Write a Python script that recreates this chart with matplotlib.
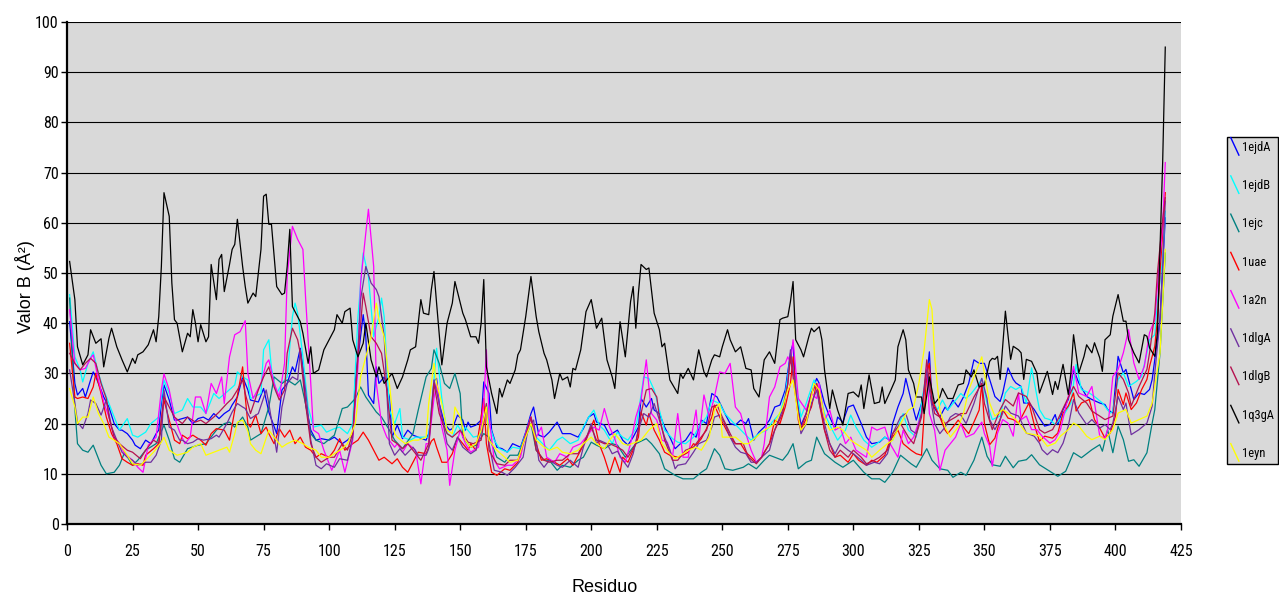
import matplotlib
matplotlib.use("Agg")
import matplotlib.pyplot as plt
from matplotlib import font_manager as fm
from matplotlib.lines import Line2D
from matplotlib.legend_handler import HandlerBase

# ---------------- data (residue, B value) ----------------
series_names = ["1ejdA", "1ejdB", "1ejc", "1uae", "1a2n", "1dlgA", "1dlgB", "1q3gA", "1eyn"]
series_colors = ["#0000FF", "#00FFFF", "#008080", "#FF0000", "#FF00FF",
                 "#7030A0", "#B5124F", "#000000", "#FFFF00"]

pts_1ejdA = [(1, 40.3), (3, 28), (4, 25.7), (6, 27), (7, 25.3), (9, 28.7), (10, 30.3), (11, 29.3), (13, 26.7),
    (14, 25.3), (16, 23.3), (18, 20), (20, 18.7), (21, 18.7), (23, 18), (25, 16.7), (26, 15.7), (28, 15),
    (30, 16.7), (32, 16), (34, 18), (35, 18.7), (36, 24), (37, 27.7), (39, 24.7), (41, 20.7), (42, 20.7),
    (44, 21), (46, 21.3), (48, 20), (50, 21), (52, 21.3), (54, 20.7), (56, 22), (58, 21), (60, 22), (62, 22.7),
    (63, 23.7), (65, 25.3), (67, 29.3), (69, 26.7), (70, 24.7), (73, 24.3), (75, 27), (77, 22.3), (80, 18),
    (82, 26.7), (84, 28), (86, 31.3), (87, 30.3), (89, 35), (90, 31.3), (91, 24), (93, 18.7), (95, 16.7),
    (97, 17), (100, 16.7), (102, 17.3), (105, 16), (107, 16.7), (109, 17.7), (110, 28.7), (112, 37.3),
    (113, 41.7), (114, 37.3), (115, 25.7), (117, 24), (118, 31.3), (119, 28), (121, 29.3), (123, 25.3),
    (124, 17.3), (126, 19.7), (128, 17), (130, 18.7), (132, 17.7), (134, 17.3), (137, 16.7), (138, 18),
    (139, 21.3), (140, 28.5), (141, 29), (142, 24), (144, 20), (146, 18.7), (147, 19), (149, 21.7), (151, 20.7),
    (152, 18.7), (153, 20.3), (154, 19.3), (156, 19.7), (158, 20.7), (159, 28.3), (161, 26), (162, 18.7),
    (164, 15.3), (166, 15), (168, 14.3), (170, 16), (173, 15.3), (175, 18.3), (177, 22), (178, 23.3),
    (180, 17.7), (182, 17.3), (184, 18.3), (187, 20.3), (189, 18), (192, 18), (195, 17.3), (197, 19),
    (199, 21.3), (201, 22), (202, 20.3), (205, 19.7), (207, 17.7), (210, 18.7), (212, 16.7), (214, 15.7),
    (216, 17.3), (218, 19.3), (219, 25), (221, 23.3), (223, 25), (224, 22.7), (226, 22), (228, 19.3),
    (230, 17.3), (232, 15), (234, 16), (236, 16.7), (238, 18.3), (240, 17.3), (242, 20.7), (244, 20),
    (246, 26), (248, 25.3), (251, 22), (253, 20), (255, 19.7), (257, 20.7), (259, 20), (260, 21), (262, 16.7),
    (264, 18.3), (266, 19.3), (268, 20.7), (270, 23.3), (272, 23.7), (274, 26.7), (276, 34), (277, 36),
    (278, 26.7), (280, 19.7), (282, 22), (284, 26), (286, 29), (287, 28), (289, 24), (291, 21.3), (293, 19),
    (294, 21.3), (296, 20.3), (298, 23.3), (300, 23.7), (303, 20), (305, 17.3), (307, 16), (310, 16.3),
    (312, 17.3), (314, 16.7), (315, 20), (317, 23.3), (319, 26), (320, 29), (322, 24.7), (324, 20.7),
    (326, 24), (328, 29.3), (329, 34.3), (330, 24), (333, 21.3), (335, 23.3), (336, 22.7), (338, 24.7),
    (340, 23.3), (342, 25.3), (344, 28), (346, 32.7), (348, 32), (350, 32), (352, 28.8), (354, 25.4),
    (356, 24.4), (357, 26.1), (359, 31.1), (361, 28.8), (362, 28.1), (364, 27.4), (365, 24.1), (367, 24.1),
    (369, 22.8), (371, 21.1), (373, 19.5), (375, 19.8), (377, 21.8), (378, 19.8), (380, 22.8), (382, 24.8),
    (384, 30.8), (386, 28.1), (389, 25.4), (391, 24.8), (394, 24.1), (396, 23.8), (397, 22.8), (399, 22.1),
    (401, 33.4), (403, 30.1), (404, 30.8), (406, 26.8), (407, 24.8), (409, 26.1), (411, 25.8), (413, 26.8),
    (414, 28.8), (415, 32.8), (417, 40.7), (418, 50.7), (419, 61)]

pts_1ejdB = [(1, 45.7), (3, 33.3), (5, 30.7), (6, 28.3), (8, 32), (10, 34.3), (12, 30), (14, 26.7), (16, 24),
    (18, 21.3), (20, 18.7), (23, 21), (25, 17.7), (27, 17.3), (30, 18.3), (32, 20), (35, 21.3), (37, 28.7),
    (39, 26), (41, 22), (44, 22.7), (46, 25), (48, 23.3), (51, 23.3), (53, 22), (56, 26), (58, 25), (61, 26.3),
    (64, 27.7), (65, 30.3), (67, 29.3), (69, 28.7), (70, 25), (74, 26), (75, 34.7), (77, 36.7), (78, 31),
    (80, 26), (82, 28), (84, 29.3), (86, 41.3), (87, 44), (88, 42), (90, 33.3), (92, 23.3), (94, 19.3),
    (97, 19.7), (99, 18.3), (102, 19), (104, 19.3), (107, 18), (109, 20), (111, 41.3), (113, 54), (115, 49.3),
    (117, 37.3), (119, 41.3), (120, 45), (121, 41.3), (123, 22.7), (125, 20), (127, 23), (128, 17.3),
    (131, 16.7), (133, 17.3), (136, 17.3), (138, 17.3), (140, 28.7), (141, 35), (143, 25), (145, 18),
    (147, 17.3), (149, 19.7), (151, 18), (152, 19.3), (155, 17.3), (158, 17.7), (160, 24), (161, 20),
    (163, 16.7), (165, 15), (168, 14.3), (170, 15.3), (173, 15), (175, 18), (177, 21.3), (179, 17.3),
    (182, 15.7), (184, 14.7), (187, 16.7), (189, 17.3), (192, 16), (195, 16.7), (197, 19.3), (199, 21.3),
    (201, 22.7), (203, 19.7), (205, 18.7), (208, 16), (210, 18.3), (212, 17.3), (214, 16.7), (217, 19),
    (219, 25.7), (220, 29.3), (222, 29), (224, 26.7), (226, 22.7), (228, 18.7), (231, 17), (233, 16.3),
    (236, 16), (239, 17.3), (241, 19.3), (244, 21.3), (246, 24.7), (249, 24), (251, 22), (254, 20.3),
    (256, 19.3), (259, 17.7), (261, 16.7), (264, 18), (267, 18.7), (269, 20.3), (272, 22), (274, 25.7),
    (276, 33.3), (278, 28), (280, 21.3), (282, 24), (285, 28.7), (287, 26.7), (289, 22), (292, 18.7),
    (294, 16.7), (297, 18.7), (299, 21.7), (301, 19.3), (304, 16.7), (307, 15.3), (309, 16), (312, 17.3),
    (315, 16.7), (317, 19.3), (319, 22), (321, 18.7), (324, 17.3), (326, 24), (328, 30.7), (330, 25.3),
    (332, 22.7), (334, 24.7), (336, 22.7), (338, 24), (341, 26), (343, 25), (345, 26), (348, 28), (349, 29),
    (351, 24), (353, 20.8), (356, 21.5), (358, 26.1), (360, 27.4), (362, 26.8), (364, 27.4), (366, 24.1),
    (368, 31.1), (371, 22.8), (373, 21.1), (375, 20.8), (377, 19.8), (380, 21.5), (383, 24.1), (385, 31.8),
    (387, 26.8), (390, 26.1), (392, 25.4), (395, 24.1), (398, 22.1), (399, 22.5), (401, 28.8), (403, 30.1),
    (405, 27.4), (408, 28.4), (410, 29.4), (412, 34.1), (413, 36.7), (415, 37.7), (416, 44.1), (418, 52.7),
    (419, 62.3)]

pts_1ejc = [(1, 45), (3, 23), (4, 16), (6, 14.7), (8, 14.3), (10, 15.7), (13, 11.7), (15, 10), (18, 10.3),
    (20, 11.7), (22, 14.3), (25, 11.7), (27, 12.7), (30, 14.7), (34, 16), (37, 19.7), (39, 16.7), (41, 13),
    (43, 12.3), (46, 15), (50, 15.7), (53, 16), (57, 18.7), (60, 20), (62, 20.3), (64, 19.3), (67, 21.3),
    (69, 19.3), (70, 16.7), (74, 18), (77, 23.3), (79, 29.3), (82, 28), (84, 28.7), (87, 27.7), (89, 28.7),
    (91, 24), (93, 18), (95, 16.7), (98, 16), (102, 17.7), (105, 23), (107, 23.3), (110, 25), (112, 27.3),
    (114, 25.3), (118, 22.3), (120, 21.3), (123, 18.7), (125, 16.7), (128, 15), (132, 18), (134, 22.7),
    (137, 29.3), (139, 31), (140, 34.7), (142, 32), (144, 28), (146, 27), (148, 30), (150, 26), (151, 17.3),
    (154, 15.3), (156, 15.7), (159, 18), (161, 17.3), (164, 13.3), (167, 12.3), (169, 13.7), (172, 13.7),
    (175, 17.3), (177, 20), (179, 14.7), (182, 12.7), (184, 12.7), (187, 10.7), (189, 11.7), (192, 11.3),
    (195, 12.7), (197, 13.3), (200, 16.3), (202, 15.7), (205, 15), (208, 16), (210, 15.7), (213, 13.3),
    (217, 16), (221, 17), (223, 16), (226, 14), (228, 11), (232, 9.7), (235, 9), (239, 9), (242, 10.3),
    (244, 11), (247, 15), (249, 13.7), (251, 11), (254, 10.7), (258, 11.3), (260, 12), (263, 11), (266, 12.7),
    (268, 13.7), (270, 13.3), (273, 12.7), (275, 14), (277, 16), (279, 11), (282, 12.3), (284, 12.7),
    (286, 17.3), (289, 14), (293, 12.3), (296, 11.3), (300, 12.7), (304, 10.3), (307, 9), (310, 9), (312, 8.3),
    (315, 10.3), (318, 13.7), (322, 12), (324, 11.3), (328, 15), (330, 12.7), (333, 11), (336, 10.7),
    (338, 9.3), (341, 10.3), (343, 9.7), (346, 12.7), (349, 17.3), (351, 13.5), (353, 11.8), (356, 11.5),
    (358, 13.5), (361, 11.2), (363, 12.5), (366, 12.8), (368, 13.8), (371, 11.8), (375, 10.5), (378, 9.5),
    (381, 10.5), (384, 14.2), (387, 13.2), (391, 14.8), (394, 15.8), (395, 14.5), (397, 18.8), (399, 14.2),
    (401, 19.5), (403, 16.8), (405, 12.5), (407, 12.8), (409, 11.5), (412, 14.2), (414, 20.1), (415, 22.8),
    (417, 34.1), (418, 44.1), (419, 54)]

pts_1uae = [(1, 36), (3, 25.3), (4, 25), (6, 25.3), (8, 25), (10, 27.3), (11, 30), (13, 26), (15, 21.3),
    (17, 18), (19, 16), (21, 13), (23, 12.3), (25, 11.7), (27, 12), (29, 11.7), (30, 13.7), (33, 15), (35, 16),
    (36, 20.7), (37, 24.7), (39, 20.7), (41, 16.7), (43, 16), (44, 17.7), (46, 17), (48, 17.7), (51, 16.7),
    (53, 15.7), (55, 18), (57, 19), (60, 18.7), (62, 16.7), (64, 22.7), (67, 31.3), (68, 25.3), (69, 20),
    (70, 19.3), (72, 21.7), (74, 18), (76, 19.3), (77, 18), (79, 16), (81, 19), (83, 17.3), (85, 18.7),
    (87, 16), (89, 17.3), (91, 15.3), (93, 14.7), (95, 13.3), (97, 14), (100, 13.3), (102, 14.7), (104, 17),
    (106, 14.7), (109, 16), (111, 16.7), (113, 18.3), (115, 16.7), (117, 14.7), (119, 12.7), (121, 13.3),
    (124, 12), (126, 13), (128, 11.3), (130, 10.3), (132, 12.3), (134, 14.3), (137, 14), (139, 16.5),
    (140, 17), (141, 15.3), (143, 12.3), (145, 12.3), (147, 14), (149, 17.3), (151, 16), (153, 14.7),
    (154, 16), (156, 14.7), (158, 21.3), (159, 25), (160, 16), (162, 10.3), (164, 9.7), (167, 11),
    (169, 10.7), (172, 12.3), (174, 16), (177, 21.3), (179, 16), (181, 12.7), (183, 13), (186, 12.3),
    (188, 11.7), (191, 13), (193, 11.7), (196, 14.7), (198, 16.7), (201, 20.7), (203, 16), (205, 13.3),
    (207, 10), (209, 13.3), (211, 10.3), (212, 13.3), (214, 12.3), (216, 14.7), (218, 17.3), (219, 22.3),
    (221, 19.7), (222, 22), (224, 18.7), (226, 16.7), (228, 14.3), (230, 13.7), (233, 13.3), (235, 13.7),
    (237, 14.3), (239, 16), (240, 15.7), (242, 17), (244, 19), (246, 21.3), (247, 23.7), (249, 21.3),
    (251, 19.3), (253, 17.3), (255, 16), (257, 16), (259, 14.3), (261, 13.3), (263, 12.3), (265, 13.3),
    (266, 14.3), (268, 16), (270, 20.7), (272, 20), (274, 23.3), (276, 28), (277, 33.3), (279, 20.7),
    (280, 18.7), (282, 21), (284, 23.3), (286, 28), (287, 24), (289, 18.7), (291, 16), (293, 13.3),
    (295, 13.7), (298, 12.3), (300, 14), (302, 12.7), (305, 11.7), (307, 12.7), (309, 12.3), (312, 13.7),
    (314, 16.7), (317, 18.7), (319, 16), (322, 14.7), (324, 14), (326, 13.7), (328, 30), (329, 32),
    (330, 24.7), (333, 21.3), (335, 18.7), (336, 18), (338, 19.3), (340, 20.7), (342, 19.3), (344, 18),
    (346, 20.3), (348, 22.7), (349, 28), (350, 20), (352, 15.8), (354, 17.1), (356, 20.8), (357, 22.8),
    (359, 21.1), (361, 20.8), (363, 20.1), (365, 22.1), (367, 24.1), (369, 19.8), (371, 16.5), (373, 17.5),
    (376, 17.1), (378, 18.1), (380, 22.1), (382, 23.5), (384, 26.1), (385, 22.5), (387, 24.1), (390, 24.8),
    (392, 20.8), (394, 19.1), (396, 17.1), (398, 18.1), (400, 21.5), (401, 26.8), (403, 23.8), (404, 26.1),
    (406, 22.8), (408, 24.1), (410, 26.8), (412, 28.8), (413, 31.4), (415, 35.4), (416, 40.7), (417, 50),
    (419, 66)]

pts_1a2n = [(1, 42.7), (3, 32), (5, 30.7), (7, 31), (9, 33), (10, 33.7), (12, 28.7), (14, 24.3), (16, 21.3),
    (18, 17.3), (20, 16), (22, 14), (25, 12.7), (27, 11.3), (29, 10.3), (31, 15.7), (34, 17.3), (36, 26.7),
    (37, 29.9), (39, 26.7), (41, 21.3), (43, 18.3), (45, 16), (47, 17.3), (49, 25.3), (51, 25.3), (53, 22),
    (55, 28), (57, 26), (59, 29.3), (60, 24), (62, 33.3), (64, 37.7), (66, 38.3), (68, 40.5), (69, 30),
    (71, 25), (74, 28), (76, 32), (77, 32.7), (79, 28), (81, 25.3), (83, 32), (84, 49.3), (86, 59.3),
    (88, 56.7), (90, 54.7), (91, 45.3), (93, 28), (94, 18.7), (96, 18), (98, 14.7), (101, 10.7), (104, 14.7),
    (106, 10.3), (109, 16.7), (111, 31.3), (112, 48), (114, 58), (115, 62.7), (117, 51.3), (118, 28),
    (120, 20), (122, 17.3), (125, 15.3), (126, 16), (128, 14.3), (130, 16), (133, 14.7), (135, 8), (137, 16),
    (138, 16), (140, 25), (141, 28), (143, 19.3), (145, 14.7), (146, 7.7), (148, 14.7), (150, 18.7),
    (152, 16), (154, 14.3), (157, 15.3), (159, 24), (160, 34.7), (161, 21.3), (163, 12.7), (165, 11),
    (168, 11.7), (170, 11.7), (173, 13.3), (175, 18), (177, 21.3), (179, 17.3), (181, 19.3), (183, 13.3),
    (186, 12.3), (188, 14), (191, 13.3), (193, 15.3), (196, 16), (198, 17.3), (201, 19.3), (203, 18.7),
    (205, 23), (207, 19.3), (209, 17), (211, 13.3), (213, 12.3), (215, 16), (217, 21.3), (219, 24.7),
    (221, 32.7), (223, 22), (225, 20.7), (227, 16.7), (229, 16.3), (231, 13.3), (233, 22), (235, 13.3),
    (237, 13.3), (238, 16.7), (240, 22.7), (241, 16.7), (243, 25.7), (245, 21.3), (247, 25.3), (249, 30.3),
    (251, 30), (253, 32), (255, 23.3), (257, 22), (259, 18), (261, 14.7), (263, 12.3), (265, 13.3), (266, 16),
    (268, 25.3), (270, 27.3), (272, 31.3), (274, 32), (275, 33.3), (276, 32), (277, 36.7), (279, 25),
    (282, 22.7), (284, 26), (286, 25), (287, 28), (289, 20.7), (291, 22.7), (293, 18.7), (295, 19.3),
    (297, 16), (299, 17.3), (301, 14.7), (305, 13.3), (307, 19.3), (309, 18.7), (312, 19.3), (314, 16),
    (317, 13.3), (319, 18.7), (321, 16), (323, 17.3), (326, 22), (328, 31.3), (329, 22), (331, 18.7),
    (333, 10.7), (335, 14.7), (337, 16), (339, 17.3), (341, 20), (343, 17.3), (346, 18), (349, 20.3),
    (350, 18), (352, 15.5), (353, 11.5), (355, 18.1), (357, 20.8), (359, 20.1), (361, 17.5), (363, 26.1),
    (364, 20.8), (366, 21.5), (368, 18.8), (370, 18.8), (372, 17.5), (375, 16.1), (377, 16.8), (379, 18.8),
    (382, 25.4), (384, 31.4), (386, 26.1), (389, 25.4), (391, 27.4), (394, 17.5), (396, 17.1), (397, 18.8),
    (399, 29.4), (401, 30.8), (403, 34.1), (405, 38.7), (407, 32.1), (409, 28.8), (411, 31.4), (413, 38.1),
    (415, 40.7), (416, 47.4), (418, 59.3), (419, 72)]

pts_1dlgA = [(1, 30.7), (3, 24), (4, 20.3), (6, 19), (8, 22), (9, 24.7), (11, 24), (13, 21.7), (15, 24.7),
    (17, 19.3), (19, 16.7), (21, 14.3), (23, 13.3), (25, 12.7), (27, 11.7), (30, 12.3), (32, 12.3),
    (34, 13.7), (36, 16.7), (37, 26.7), (39, 19.3), (41, 18.7), (43, 16.7), (44, 16.7), (46, 16), (48, 16.3),
    (50, 17), (52, 16.7), (55, 17), (57, 17.7), (58, 17.3), (61, 20), (63, 22.3), (65, 24), (67, 23.3),
    (68, 23), (70, 21), (73, 22), (76, 26.7), (77, 24), (80, 14.3), (82, 23.3), (84, 28), (86, 29.3),
    (88, 28.7), (89, 34.7), (91, 26.7), (93, 16.7), (95, 11.7), (97, 11), (99, 12), (102, 11.3), (104, 13),
    (107, 12.7), (109, 17.3), (111, 34.7), (112, 44.7), (114, 51.3), (116, 48), (118, 46.7), (119, 45.3),
    (121, 37.3), (123, 16), (125, 13.7), (127, 15), (129, 13.7), (132, 15.3), (134, 13.7), (137, 13.7),
    (138, 15), (139, 22.7), (140, 28.7), (142, 24), (145, 16), (147, 14.7), (149, 17.3), (151, 15.3),
    (154, 14), (156, 14.7), (158, 18.7), (160, 23.3), (161, 16), (163, 10.7), (166, 10.3), (168, 9.7),
    (171, 11.3), (174, 13.3), (176, 19.3), (178, 20.7), (180, 12.7), (182, 11.3), (184, 12.7), (187, 11.7),
    (189, 11.3), (192, 12.7), (195, 11.3), (197, 15.3), (200, 20), (202, 16), (203, 16.7), (206, 16),
    (208, 14), (210, 14.5), (212, 12.7), (214, 11.3), (216, 14), (218, 18.7), (220, 22), (222, 21.3),
    (224, 24), (226, 20.7), (228, 17.3), (230, 14.7), (232, 11), (233, 11.7), (236, 12), (239, 14.3),
    (241, 16), (244, 16.7), (246, 19.3), (247, 21.3), (249, 21.7), (251, 20), (253, 17.3), (255, 15.3),
    (257, 14.3), (259, 14), (261, 12.3), (263, 12.3), (265, 13.3), (268, 14.7), (270, 18.7), (273, 22.7),
    (275, 28), (276, 34.7), (278, 26.7), (280, 18), (282, 20), (284, 24), (286, 26.7), (287, 24), (289, 20),
    (291, 16), (293, 14), (295, 16), (298, 14.7), (300, 14), (303, 12.7), (305, 11.7), (308, 12.3), (310, 12),
    (313, 14), (315, 18), (318, 21.3), (320, 22), (322, 18.7), (324, 18), (326, 22), (328, 30.7), (329, 26.7),
    (331, 20), (333, 18), (335, 19.3), (337, 21.3), (339, 22), (341, 21.7), (343, 20), (346, 24), (349, 29),
    (351, 25), (352, 20.8), (354, 18.8), (356, 20.8), (358, 23.5), (360, 22.1), (363, 21.5), (364, 20.5),
    (366, 18.1), (369, 17.5), (371, 16.1), (372, 14.8), (374, 13.8), (376, 14.8), (378, 14.2), (380, 16.1),
    (382, 19.5), (384, 24.8), (386, 22.1), (389, 19.8), (391, 20.8), (394, 19.1), (396, 19.8), (398, 18.8),
    (399, 20.1), (401, 25.4), (403, 22.8), (404, 24.1), (405, 20.8), (406, 17.8), (409, 18.8), (412, 20.1),
    (414, 23.5), (415, 30.1), (417, 40.7), (418, 51.4), (419, 64.3)]

pts_1dlgB = [(1, 34), (3, 32), (5, 30.7), (7, 32), (9, 33), (11, 32), (13, 28), (15, 25), (16, 21.3),
    (18, 17.3), (20, 16), (23, 14.7), (25, 14.3), (28, 13), (30, 14.7), (33, 16.7), (35, 16), (37, 25.3),
    (39, 23.3), (41, 21.3), (44, 20), (46, 21.3), (49, 20.3), (51, 20.7), (53, 20), (56, 21.3), (58, 22.3),
    (61, 24), (63, 25), (65, 26.7), (67, 28.7), (68, 26), (70, 22), (73, 26.7), (75, 29.3), (77, 31.3),
    (79, 27.3), (81, 24.7), (83, 26.7), (84, 34), (86, 39), (88, 36.7), (89, 34), (91, 24), (93, 16),
    (95, 13.3), (97, 12.3), (100, 13.3), (102, 13.3), (105, 16), (107, 14.7), (109, 18), (111, 33.3),
    (113, 46), (114, 43.3), (116, 37.3), (118, 36), (120, 34), (122, 26.7), (124, 16.7), (126, 16),
    (128, 15), (130, 16), (133, 14), (135, 12.7), (138, 16), (139, 22), (140, 28), (142, 22), (145, 18),
    (147, 17.3), (150, 18.7), (153, 16.3), (155, 16), (158, 16.7), (160, 24), (161, 14.7), (164, 12),
    (167, 11.7), (169, 12.7), (172, 12.7), (174, 16), (177, 21.3), (179, 14.7), (182, 12.7), (184, 12.3),
    (187, 12.7), (189, 12.7), (192, 14), (195, 14), (197, 16), (200, 19.3), (202, 16.7), (205, 16),
    (207, 16), (210, 15.3), (212, 14.7), (214, 13.3), (217, 16), (219, 22), (221, 26.7), (223, 27),
    (225, 25.3), (226, 21.3), (228, 16.7), (231, 12.7), (233, 12.7), (236, 14.7), (239, 15.3), (241, 16.7),
    (244, 18.7), (246, 23.3), (248, 23.7), (250, 21.3), (253, 18), (255, 16), (258, 16), (260, 13.3),
    (263, 12), (265, 13.3), (268, 16), (270, 18.7), (273, 22), (275, 28), (276, 33.3), (278, 25.3), (280, 19),
    (282, 22), (284, 26), (286, 28), (287, 25.3), (289, 18.7), (291, 14.7), (293, 13.3), (295, 14.7),
    (298, 13.3), (300, 14.7), (303, 13.3), (305, 12), (308, 12.7), (310, 13.3), (313, 14.7), (315, 18),
    (318, 20), (321, 17.3), (323, 16), (326, 21.3), (328, 32.7), (329, 28), (331, 22), (333, 21.3), (335, 20),
    (337, 20.7), (339, 21.3), (341, 22), (343, 22), (346, 25.3), (349, 28), (350, 24), (353, 18.8),
    (356, 22.8), (358, 24.8), (361, 23.5), (363, 26.1), (366, 25.4), (368, 23.5), (371, 18.8), (373, 18.1),
    (376, 18.8), (378, 20.8), (381, 24.1), (384, 27.4), (386, 25.4), (389, 24.1), (391, 22.5), (394, 21.5),
    (396, 20.8), (399, 21.5), (401, 30.1), (403, 28.8), (405, 26.1), (406, 23.5), (409, 27.4), (412, 30.8),
    (413, 34.1), (415, 42), (416, 50), (418, 60.6), (419, 65)]

pts_1q3gA = [(1, 52.3), (3, 44.7), (4, 35.3), (6, 31.7), (8, 33.7), (9, 38.7), (11, 36), (13, 36.9),
    (14, 31.3), (16, 37), (17, 39), (19, 35.3), (21, 32.7), (23, 30.3), (25, 33), (26, 32), (27, 33.7),
    (29, 34.3), (31, 35.7), (33, 38.7), (34, 36.3), (35, 41.3), (36, 51.3), (37, 66), (39, 61.3), (40, 48),
    (41, 40.7), (42, 40), (44, 34.3), (46, 38), (47, 37.3), (48, 42.7), (49, 40), (50, 36.3), (51, 39.7),
    (53, 36.3), (54, 37.3), (55, 51.7), (57, 44.7), (58, 52.7), (59, 53.7), (60, 46.3), (62, 51.7),
    (63, 54.7), (64, 55.7), (65, 60.7), (67, 51.3), (68, 47.3), (69, 44), (71, 46), (72, 45.3), (74, 54.7),
    (75, 65.3), (76, 65.7), (77, 59.7), (78, 59.7), (80, 47.3), (82, 45.7), (83, 46), (84, 51.3), (85, 58.7),
    (86, 43.3), (88, 41.3), (89, 40.3), (90, 38), (92, 32), (93, 35.3), (94, 30), (96, 30.7), (98, 34.7),
    (100, 36.7), (102, 38.7), (103, 41.7), (105, 40), (106, 42.3), (108, 43), (109, 36.7), (111, 33.3),
    (113, 36), (114, 40), (116, 32.7), (118, 29.3), (119, 31.3), (121, 28), (124, 30), (126, 27), (128, 29.3),
    (130, 32.7), (131, 34.7), (133, 35.3), (135, 44.7), (136, 42), (138, 41.7), (139, 46.7), (140, 50.3),
    (141, 44), (143, 31.7), (145, 40), (147, 44), (148, 48.3), (151, 42), (152, 40.7), (154, 37.3),
    (156, 37.3), (157, 36), (158, 40), (159, 48.7), (160, 31.3), (162, 26), (164, 22), (165, 27), (166, 25.3),
    (168, 28.7), (169, 28), (171, 30.7), (172, 33.7), (173, 34.7), (175, 41.3), (177, 49.3), (179, 41.3),
    (180, 38.3), (182, 34), (183, 32.7), (185, 28.7), (186, 25), (188, 30), (189, 28.7), (191, 29.3),
    (192, 27.3), (193, 31), (194, 30.7), (196, 34.7), (198, 42.3), (200, 44.7), (202, 39), (204, 41),
    (206, 32.7), (208, 29.3), (209, 27), (211, 40.3), (213, 33.3), (215, 44.3), (216, 47.3), (217, 39),
    (218, 46), (219, 51.7), (221, 50.7), (222, 51), (224, 42), (226, 38.7), (227, 35.3), (228, 36),
    (230, 28.7), (233, 26), (234, 30), (235, 29), (237, 31), (239, 28.7), (241, 34.7), (243, 30.3),
    (244, 29.3), (246, 32.7), (247, 33.7), (249, 33.3), (250, 35.3), (252, 38.7), (253, 36.7), (255, 34.3),
    (257, 35.3), (259, 31), (261, 30.7), (262, 27), (264, 25.3), (266, 32.7), (268, 34.3), (270, 32),
    (272, 40.7), (273, 41), (275, 41.3), (276, 44.3), (277, 48.3), (278, 36.7), (280, 34.7), (281, 33.3),
    (283, 37.3), (284, 39), (285, 38.3), (287, 39.3), (288, 36.7), (289, 30.7), (291, 23), (292, 26.7),
    (294, 22.7), (296, 19.7), (298, 26), (300, 26.3), (302, 25.3), (303, 27.7), (304, 23), (306, 29.7),
    (308, 24), (310, 24.3), (311, 27.3), (312, 24), (314, 26.3), (316, 28.7), (317, 35.3), (319, 38.7),
    (320, 36.7), (321, 30.7), (323, 28), (324, 25.3), (326, 25.3), (327, 22), (329, 29.3), (331, 24),
    (333, 25.3), (334, 27), (336, 25), (338, 25), (340, 27.7), (342, 28), (343, 30.7), (345, 29.3),
    (346, 30.7), (348, 27.3), (350, 27.7), (351, 30), (352, 32.4), (353, 33), (354, 32.8), (355, 33.4),
    (356, 28.8), (358, 42.4), (360, 32.8), (361, 35.4), (363, 34.7), (364, 34.1), (365, 28.8), (366, 32.8),
    (368, 32.4), (370, 30.1), (371, 26.1), (374, 30.4), (376, 25.8), (377, 28.4), (378, 26.8), (380, 31.8),
    (382, 25.8), (383, 30.1), (384, 37.7), (386, 30.1), (388, 33.4), (389, 35.7), (391, 34.1), (392, 36.1),
    (394, 33.1), (395, 30.4), (396, 36.7), (398, 37.7), (399, 41.4), (401, 45.7), (403, 40.4), (404, 40.4),
    (405, 36.7), (407, 34.1), (409, 32.1), (411, 37.7), (412, 37.4), (413, 35.1), (415, 33.4), (416, 38),
    (418, 72), (419, 95)]

pts_1eyn = [(1, 27), (3, 23.3), (4, 20), (6, 21.3), (8, 21.3), (10, 25.3), (12, 22), (14, 20), (16, 17.3),
    (18, 16.7), (20, 16), (23, 13.7), (25, 12), (28, 11.7), (30, 12.7), (33, 14.3), (36, 16.3), (37, 17.3),
    (39, 14.7), (42, 13.7), (44, 14), (46, 14.3), (48, 15.3), (51, 16), (53, 13.7), (56, 14.3), (58, 14.7),
    (61, 15.3), (62, 14.3), (64, 18), (65, 20.3), (67, 20.7), (69, 18.5), (70, 16), (72, 14.7), (74, 14),
    (77, 18.7), (79, 17.3), (82, 15.3), (84, 16), (87, 16.7), (90, 16), (92, 15.3), (95, 14.7), (97, 13.3),
    (100, 13.3), (102, 14), (105, 15), (107, 16), (110, 20), (112, 29.3), (114, 33.3), (116, 37.3), (118, 44),
    (119, 40.7), (121, 37.3), (123, 28), (125, 18), (126, 17.3), (129, 16), (132, 16.7), (134, 16.7),
    (137, 17.3), (138, 24), (140, 32), (141, 28), (143, 24), (145, 18.7), (147, 18), (148, 23.3), (150, 21.3),
    (152, 16.7), (154, 15.3), (156, 16), (158, 18.7), (160, 23.3), (161, 16.7), (164, 14.7), (167, 13.3),
    (169, 12.3), (172, 12.7), (174, 16), (177, 20), (179, 16.7), (182, 15.3), (184, 14.7), (187, 15.3),
    (189, 14.3), (192, 14), (195, 14.7), (197, 16), (200, 17.3), (202, 16), (205, 15), (207, 16.7), (209, 18),
    (212, 16), (214, 15.7), (217, 16.3), (219, 16.7), (222, 18.7), (225, 20), (227, 16), (230, 14), (232, 13),
    (235, 14), (237, 14.7), (240, 15.3), (242, 14.7), (245, 17.3), (247, 22.7), (249, 24), (250, 17.3),
    (253, 17.3), (255, 17.3), (258, 16), (260, 16), (263, 17.3), (265, 18.3), (268, 19.3), (270, 20),
    (273, 23.3), (275, 26.7), (277, 28.7), (279, 21.3), (280, 18.7), (282, 20), (285, 28), (287, 26.7),
    (289, 21.3), (291, 18.7), (294, 19.3), (296, 18.7), (299, 16.7), (301, 16), (305, 14.7), (307, 13.3),
    (310, 14.7), (313, 16), (315, 16.7), (318, 20), (321, 22.7), (323, 23.3), (325, 28), (327, 34.7),
    (329, 44.7), (330, 42.7), (331, 33.3), (333, 22.7), (335, 19.3), (337, 17.3), (340, 19.3), (342, 22),
    (344, 26.7), (346, 29.3), (348, 32), (349, 33.3), (350, 30), (352, 24.1), (354, 21.5), (357, 22.8),
    (359, 22.1), (362, 20.8), (364, 19.5), (366, 18.1), (369, 17.8), (371, 17.5), (374, 15.5), (377, 16.1),
    (379, 17.5), (382, 18.8), (384, 20.1), (386, 19.5), (389, 17.5), (391, 16.8), (394, 17.5), (396, 16.8),
    (399, 18.8), (401, 22.1), (404, 22.8), (406, 20.1), (409, 20.8), (412, 21.5), (414, 24.1), (415, 27.4),
    (417, 34.1), (418, 44.1), (419, 54.7)]

series_points = [pts_1ejdA, pts_1ejdB, pts_1ejc, pts_1uae, pts_1a2n,
                 pts_1dlgA, pts_1dlgB, pts_1q3gA, pts_1eyn]

x_ticks = list(range(0, 426, 25))
y_ticks = list(range(0, 101, 10))
x_label = "Residuo"
y_label = "Valor B (Å²)"

# ---------------- fonts ----------------
installed = fm.fontManager.ttflist
names = {f.name for f in installed}
regular = "Liberation Sans" if "Liberation Sans" in names else "DejaVu Sans"
narrow_props = None
for cand in ("Liberation Sans Narrow", "Arial Narrow", "Roboto Condensed", "Open Sans Condensed"):
    if cand in names:
        narrow_props = dict(family=[cand, "DejaVu Sans"], stretch="normal")
        break
if narrow_props is None:
    cond = [f for f in installed if f.name == "DejaVu Sans" and str(f.stretch) in ("condensed", "semi-condensed")]
    if cond:
        narrow_props = dict(family=["DejaVu Sans"], stretch="condensed")
if narrow_props is not None:
    tick_font = dict(narrow_props, size=11.5)
    leg_font = dict(narrow_props, size=9)
else:
    tick_font = dict(family=[regular, "DejaVu Sans"], stretch="normal", size=10)
    leg_font = dict(family=[regular, "DejaVu Sans"], stretch="normal", size=7.5)
plt.rcParams["font.family"] = [regular, "DejaVu Sans"]

W, H = 1279, 597
fig = plt.figure(figsize=(W / 100, H / 100), dpi=100)
fig.patch.set_facecolor("white")
ax = fig.add_axes([67 / W, 1 - 524 / H, (1181 - 67) / W, (524 - 22) / H])
ax.set_facecolor("#D9D9D9")

for name, col, pts in zip(series_names, series_colors, series_points):
    pts = sorted(pts)
    xs = [p[0] for p in pts]
    ys = [p[1] for p in pts]
    ax.plot(xs, ys, color=col, lw=0.9, label=name)

ax.set_xlim(0, 425)
ax.set_ylim(0, 100)
ax.set_xticks(x_ticks)
ax.set_yticks(y_ticks)
ax.yaxis.grid(True, color="black", lw=0.8)
ax.set_axisbelow(True)
for s in ("top", "right"):
    ax.spines[s].set_visible(False)
for s in ("left", "bottom"):
    ax.spines[s].set_color("black")
    ax.spines[s].set_linewidth(1.6)
ax.tick_params(axis="both", direction="out", length=4.5, width=1, color="black")
ax.tick_params(axis="y", pad=1.5)
ax.tick_params(axis="x", pad=10)
for lab in ax.get_xticklabels() + ax.get_yticklabels():
    lab.set_fontfamily(tick_font["family"])
    lab.set_fontstretch(tick_font["stretch"])
    lab.set_fontsize(tick_font["size"])

fig.text(605 / W, 1 - 588 / H, x_label, ha="center", va="center", fontsize=13)
fig.text(25 / W, 1 - 287 / H, y_label, ha="center", va="center", rotation=90, fontsize=13)


class DiagHandler(HandlerBase):
    def create_artists(self, legend, orig_handle, xdescent, ydescent, width, height, fontsize, trans):
        line = Line2D([-xdescent, -xdescent + width],
                      [-ydescent + height * 1.5, -ydescent - height * 0.5],
                      color=orig_handle.get_color(), lw=1.0, transform=trans)
        return [line]


handles = ax.get_lines()
leg = fig.legend(handles=handles, labels=series_names, loc="upper left",
                 bbox_to_anchor=(1227 / W, 1 - 137 / H), bbox_transform=fig.transFigure,
                 handler_map={Line2D: DiagHandler()}, handlelength=0.65, handletextpad=0.25,
                 labelspacing=2.02, borderpad=0.3, borderaxespad=0,
                 frameon=True, fancybox=False, edgecolor="black", facecolor="#D9D9D9",
                 framealpha=1, prop=leg_font)
leg.get_frame().set_linewidth(1.0)

fig.savefig("out.png", dpi=100, facecolor="white")
